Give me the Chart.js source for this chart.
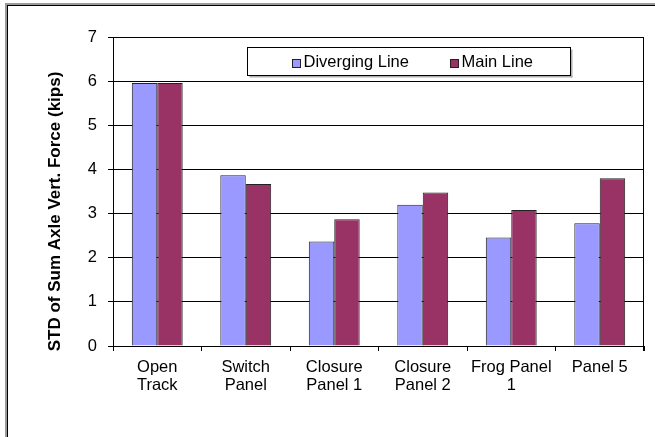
<!DOCTYPE html>
<html>
<head>
<meta charset="utf-8">
<script src="https://cdn.jsdelivr.net/npm/chart.js@4/dist/chart.umd.min.js"></script>
<style>
  html, body { margin: 0; padding: 0; background: #fff; }
  canvas { display: block; }
</style>
</head>
<body>
<canvas id="chart" width="655" height="437"></canvas>
<script>
// Locations along the turnout
const categories = [
  ['Open', 'Track'],
  ['Switch', 'Panel'],
  ['Closure', 'Panel 1'],
  ['Closure', 'Panel 2'],
  ['Frog Panel', '1'],
  ['Panel 5']
];

// Standard deviation of summed axle vertical force (kips)
const divergingLine = [5.96, 3.87, 2.37, 3.20, 2.46, 2.78];
const mainLine      = [5.96, 3.67, 2.87, 3.48, 3.08, 3.80];

const yTicks = { min: 0, max: 7, step: 1 };
const yTitle = 'STD of Sum Axle Vert. Force (kips)';

const FONT = "'Liberation Sans', Arial, sans-serif";

// Outer frame: grey band with a thin black line inside, top and left edges
const framePlugin = {
  id: 'frame',
  beforeDraw(chart) {
    const ctx = chart.ctx;
    ctx.save();
    ctx.fillStyle = '#fff';
    ctx.fillRect(0, 0, chart.width, chart.height);
    ctx.fillStyle = '#9a9a9a';
    ctx.fillRect(5, 3, chart.width - 5, 2);
    ctx.fillRect(5, 3, 2, chart.height - 3);
    ctx.fillStyle = '#000';
    ctx.fillRect(7, 5, chart.width - 7, 1);
    ctx.fillRect(7, 5, 1, chart.height - 5);
    ctx.restore();
  }
};

// Right edge of the plot area, running down into the last category tick
const plotEdgePlugin = {
  id: 'plotEdge',
  afterDraw(chart) {
    const ctx = chart.ctx;
    const area = chart.chartArea;
    const x = Math.round(area.right) - 0.5;
    ctx.save();
    ctx.strokeStyle = '#000';
    ctx.lineWidth = 1;
    ctx.beginPath();
    ctx.moveTo(x, area.top);
    ctx.lineTo(x, area.bottom + 5);
    ctx.stroke();
    ctx.restore();
  }
};

// Rotated value-axis title
const yTitlePlugin = {
  id: 'yTitle',
  afterDraw(chart) {
    const ctx = chart.ctx;
    const area = chart.chartArea;
    ctx.save();
    ctx.translate(55, (area.top + area.bottom) / 2 + 20);
    ctx.rotate(-Math.PI / 2);
    ctx.font = 'bold 17px ' + FONT;
    ctx.fillStyle = '#000';
    ctx.textAlign = 'center';
    ctx.textBaseline = 'middle';
    ctx.fillText(yTitle, 0, 0);
    ctx.restore();
  }
};

// Boxed legend placed inside the plot area
const boxLegendPlugin = {
  id: 'boxLegend',
  afterDatasetsDraw(chart) {
    const ctx = chart.ctx;
    const area = chart.chartArea;
    const x0 = area.left + 134.5, y0 = area.top + 10.5;
    const w = 323, h = 28;
    ctx.save();
    // soft shadow under the box
    ctx.fillStyle = '#b0b0b0';
    ctx.fillRect(x0 + 2, y0 + h, w, 2);
    ctx.fillRect(x0 + w, y0 + 2, 2, h);
    ctx.fillStyle = '#fff';
    ctx.fillRect(x0, y0, w, h);
    ctx.strokeStyle = '#000';
    ctx.lineWidth = 1;
    ctx.strokeRect(x0, y0, w, h);
    ctx.font = '16.5px ' + FONT;
    ctx.textBaseline = 'middle';
    ctx.textAlign = 'left';
    const cy = y0 + h / 2 + 1;
    const starts = [x0 + 44, x0 + 202];
    chart.data.datasets.forEach((ds, i) => {
      const mx = Math.round(starts[i]) + 0.5;
      ctx.fillStyle = ds.backgroundColor;
      ctx.fillRect(mx, Math.round(cy - 4) + 0.5, 8, 8);
      ctx.strokeStyle = '#222';
      ctx.strokeRect(mx, Math.round(cy - 4) + 0.5, 8, 8);
      ctx.fillStyle = '#000';
      ctx.fillText(ds.label, mx + 11, cy);
    });
    ctx.restore();
  }
};

new Chart(document.getElementById('chart'), {
  type: 'bar',
  data: {
    labels: categories,
    datasets: [
      {
        label: 'Diverging Line',
        data: divergingLine,
        backgroundColor: '#9999FF',
        borderColor: '#222',
        borderWidth: 1,
        categoryPercentage: 0.575,
        barPercentage: 1.0
      },
      {
        label: 'Main Line',
        data: mainLine,
        backgroundColor: '#993366',
        borderColor: '#222',
        borderWidth: 1,
        categoryPercentage: 0.575,
        barPercentage: 1.0
      }
    ]
  },
  options: {
    responsive: false,
    animation: false,
    devicePixelRatio: 1,
    layout: { padding: { left: 40, top: 37, right: 11, bottom: 31 } },
    plugins: {
      legend: { display: false },
      tooltip: { enabled: false }
    },
    scales: {
      x: {
        afterFit(scale) { scale.height = 60; },
        border: { color: '#000', width: 1 },
        grid: {
          drawOnChartArea: false,
          drawTicks: true,
          tickLength: 5,
          color: '#000'
        },
        ticks: {
          color: '#000',
          padding: 8,
          maxRotation: 0,
          autoSkip: false,
          font: { family: FONT, size: 16.5, lineHeight: 1.07 }
        }
      },
      y: {
        min: yTicks.min,
        max: yTicks.max,
        afterFit(scale) { scale.width = 73; },
        border: { color: '#000', width: 1 },
        grid: {
          color: '#000',
          lineWidth: 1,
          tickLength: 5
        },
        ticks: {
          stepSize: yTicks.step,
          color: '#000',
          padding: 11,
          font: { family: FONT, size: 16.5 }
        }
      }
    }
  },
  plugins: [framePlugin, plotEdgePlugin, yTitlePlugin, boxLegendPlugin]
});
</script>
</body>
</html>
